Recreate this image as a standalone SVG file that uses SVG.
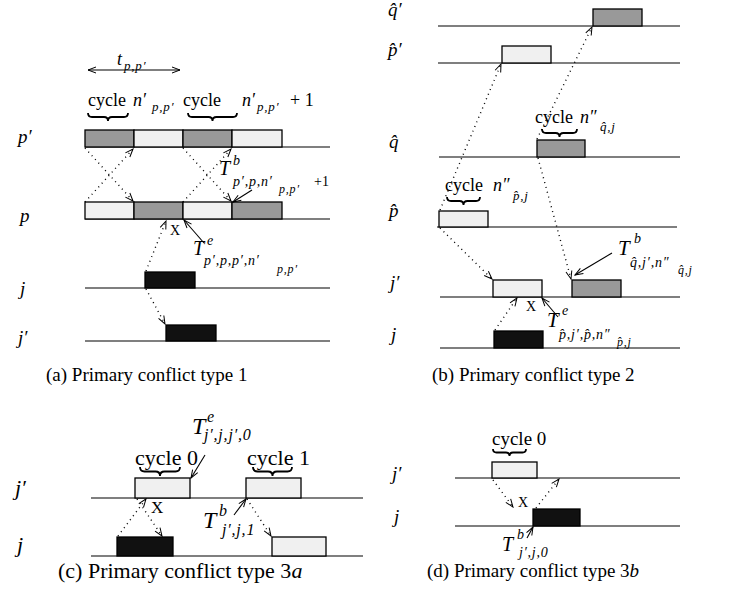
<svg xmlns="http://www.w3.org/2000/svg" width="735" height="600" viewBox="0 0 735 600">
<style>
.m{font-family:"Liberation Serif","DejaVu Serif",serif;font-style:italic;fill:#000}
.r{font-family:"Liberation Serif","DejaVu Serif",serif;fill:#000}
.s{letter-spacing:0.8px}
.ln{stroke:#000;stroke-width:1.2;fill:none}
.dk{fill:#999;stroke:#000;stroke-width:1.3}
.lt{fill:#f0f0f0;stroke:#000;stroke-width:1.3}
.bk{fill:#111;stroke:#000;stroke-width:1.3}
.dot{stroke:#000;stroke-width:1.4;stroke-dasharray:1 4;fill:none;marker-end:url(#ah)}
.ptr{stroke:#000;stroke-width:1.1;fill:none;marker-end:url(#ah)}
.br{fill:none;stroke:#000;stroke-width:1.8}
</style>
<defs>
<marker id="ah" markerWidth="10" markerHeight="8" refX="9" refY="4" orient="auto-start-reverse" markerUnits="userSpaceOnUse">
<path d="M1,1 L9,4 L1,7" fill="none" stroke="#000" stroke-width="1"/>
</marker>
</defs>
<rect width="735" height="600" fill="#fff"/>

<!-- Panel (a) -->
<g id="panel-a">
<g id="a-labels">
<text class="m" x="18" y="143" font-size="19">p′</text>
<text class="m" x="20" y="222" font-size="19">p</text>
<text class="m" x="20" y="295" font-size="19">j</text>
<text class="m" x="18" y="344" font-size="19">j′</text>
</g>
<g id="a-lines">
<line class="ln" x1="85" y1="147" x2="330" y2="147"/>
<line class="ln" x1="85" y1="219" x2="330" y2="219"/>
<line class="ln" x1="85" y1="288" x2="330" y2="288"/>
<line class="ln" x1="85" y1="341" x2="330" y2="341"/>
</g>
<g id="a-pprime">
<rect class="dk" x="85" y="130" width="49" height="17"/>
<rect class="lt" x="134" y="130" width="49" height="17"/>
<rect class="dk" x="183" y="130" width="49" height="17"/>
<rect class="lt" x="232" y="130" width="50" height="17"/>
</g>
<g id="a-p">
<rect class="lt" x="85" y="202" width="49" height="17"/>
<rect class="dk" x="134" y="202" width="49" height="17"/>
<rect class="lt" x="183" y="202" width="49" height="17"/>
<rect class="dk" x="232" y="202" width="50" height="17"/>
</g>
<g id="a-j"><rect class="bk" x="145" y="272" width="50" height="16"/></g>
<g id="a-jprime"><rect class="bk" x="166" y="325" width="50" height="16"/></g>
<g id="a-t">
<line class="ln" x1="88" y1="70" x2="180" y2="70" style="marker-start:url(#ah);marker-end:url(#ah)"/>
<text class="m" x="117" y="65" font-size="18">t</text>
<text class="m s" x="124" y="70" font-size="13">p,p′</text>
</g>
<g id="a-cycles">
<text class="r" x="88" y="106" font-size="18">cycle</text>
<text class="m" x="133" y="106" font-size="18">n′</text>
<text class="m s" x="152" y="111" font-size="13">p,p′</text>
<text class="r" x="183" y="106" font-size="18">cycle</text>
<text class="m" x="242" y="106" font-size="18">n′</text>
<text class="m s" x="257" y="111" font-size="13">p,p′</text>
<text class="r" x="290" y="106" font-size="18">+ 1</text>
<path class="br" d="M88,113 q0,4 4,4 H104 q4,0 4,4 q0,-4 4,-4 H124 q4,0 4,-4"/>
<path class="br" d="M188,113 q0,4 4,4 H208.5 q4,0 4,4 q0,-4 4,-4 H233 q4,0 4,-4"/>
</g>
<g id="a-Tb">
<text class="m" x="219" y="175" font-size="20">T</text>
<text class="m" x="233" y="165" font-size="14">b</text>
<text class="m s" x="233" y="186" font-size="14">p′,p,n′</text>
<text class="m s" x="279" y="193" font-size="12">p,p′</text>
<text class="r" x="314" y="186" font-size="14">+1</text>
</g>
<g id="a-Te">
<text class="m" x="193" y="255" font-size="20">T</text>
<text class="m" x="207" y="245" font-size="14">e</text>
<text class="m s" x="204" y="265" font-size="14">p′,p,p′,n′</text>
<text class="m s" x="277" y="273" font-size="12">p,p′</text>
</g>
<text class="r" x="170" y="235" font-size="14">X</text>
<text class="r" x="46" y="381" font-size="19">(a) Primary conflict type 1</text>
</g>

<!-- Panel (b) -->
<g id="panel-b">
<g id="b-labels">
<text class="m" x="388" y="16" font-size="19">q̂′</text>
<text class="m" x="388" y="56" font-size="19">p̂′</text>
<text class="m" x="389" y="148" font-size="19">q̂</text>
<text class="m" x="389" y="217" font-size="19">p̂</text>
<text class="m" x="390" y="289" font-size="19">j′</text>
<text class="m" x="391" y="341" font-size="19">j</text>
</g>
<g id="b-lines">
<line class="ln" x1="438" y1="26" x2="680" y2="26"/>
<line class="ln" x1="438" y1="63" x2="680" y2="63"/>
<line class="ln" x1="439" y1="157" x2="680" y2="157"/>
<line class="ln" x1="437" y1="227" x2="677" y2="227"/>
<line class="ln" x1="440" y1="297" x2="680" y2="297"/>
<line class="ln" x1="440" y1="348" x2="680" y2="348"/>
</g>
<g id="b-qprime"><rect class="dk" x="593" y="9" width="49" height="17"/></g>
<g id="b-pprime"><rect class="lt" x="502" y="46" width="49" height="17"/></g>
<g id="b-q"><rect class="dk" x="537" y="140" width="48" height="17"/></g>
<g id="b-p"><rect class="lt" x="439" y="211" width="49" height="16"/></g>
<g id="b-jprime">
<rect class="lt" x="493" y="280" width="49" height="17"/>
<rect class="dk" x="572" y="280" width="49" height="17"/>
</g>
<g id="b-j"><rect class="bk" x="494" y="331" width="49" height="17"/></g>
<g id="b-cycq">
<text class="r" x="535" y="123" font-size="18">cycle</text>
<text class="m" x="580" y="123" font-size="18">n″</text>
<text class="m s" x="600" y="131" font-size="13">q̂,j</text>
<path class="br" d="M542,129 q0,4 4,4 H555.5 q4,0 4,4 q0,-4 4,-4 H573 q4,0 4,-4"/>
</g>
<g id="b-cycp">
<text class="r" x="445" y="191" font-size="18">cycle</text>
<text class="m" x="493" y="191" font-size="18">n″</text>
<text class="m s" x="513" y="200" font-size="13">p̂,j</text>
<path class="br" d="M447,197 q0,4 4,4 H459.5 q4,0 4,4 q0,-4 4,-4 H476 q4,0 4,-4"/>
</g>
<g id="b-Tb">
<text class="m" x="618" y="255" font-size="21">T</text>
<text class="m" x="634" y="243" font-size="14">b</text>
<text class="m s" x="630" y="267" font-size="14">q̂,j′,n″</text>
<text class="m s" x="678" y="274" font-size="12">q̂,j</text>
</g>
<g id="b-Te">
<text class="m" x="547" y="327" font-size="21">T</text>
<text class="m" x="562" y="315" font-size="14">e</text>
<text class="m s" x="559" y="339" font-size="14">p̂,j′,p̂,n″</text>
<text class="m s" x="617" y="346" font-size="12">p̂,j</text>
</g>
<text class="r" x="526" y="311" font-size="14">X</text>
<text class="r" x="432" y="381" font-size="19">(b) Primary conflict type 2</text>
</g>

<!-- Panel (c) -->
<g id="panel-c">
<g id="c-labels">
<text class="m" x="15" y="495" font-size="22">j′</text>
<text class="m" x="17" y="552" font-size="22">j</text>
</g>
<g id="c-lines">
<line class="ln" x1="91" y1="498" x2="363" y2="498"/>
<line class="ln" x1="91" y1="556" x2="363" y2="556"/>
</g>
<g id="c-jprime">
<rect class="lt" x="135" y="478" width="55" height="20"/>
<rect class="lt" x="246" y="478" width="55" height="20"/>
</g>
<g id="c-j">
<rect class="bk" x="117" y="537" width="56" height="19"/>
<rect class="lt" x="272" y="537" width="54" height="19"/>
</g>
<g id="c-cycles">
<text class="r" x="135" y="465" font-size="22">cycle 0</text>
<text class="r" x="247" y="465" font-size="22">cycle 1</text>
<path class="br" d="M140,467 q0,4.5 4.5,4.5 H155.5 q4.5,0 4.5,4.5 q0,-4.5 4.5,-4.5 H175.5 q4.5,0 4.5,-4.5"/>
<path class="br" d="M253,467 q0,4.5 4.5,4.5 H268 q4.5,0 4.5,4.5 q0,-4.5 4.5,-4.5 H287.5 q4.5,0 4.5,-4.5"/>
</g>
<g id="c-Te">
<text class="m" x="192" y="434" font-size="24">T</text>
<text class="m" x="207" y="422" font-size="16">e</text>
<text class="m s" x="204" y="440" font-size="16">j′,j,j′,0</text>
</g>
<g id="c-Tb">
<text class="m" x="203" y="528" font-size="24">T</text>
<text class="m" x="219" y="516" font-size="16">b</text>
<text class="m s" x="222" y="535" font-size="16">j′,j,1</text>
</g>
<text class="r" x="151" y="513" font-size="17">X</text>
<text class="r" x="58" y="578" font-size="22">(c) Primary conflict type 3<tspan class="m">a</tspan></text>
</g>

<!-- Panel (d) -->
<g id="panel-d">
<g id="d-labels">
<text class="m" x="392" y="480" font-size="19">j′</text>
<text class="m" x="394" y="523" font-size="19">j</text>
</g>
<g id="d-lines">
<line class="ln" x1="455" y1="478" x2="680" y2="478"/>
<line class="ln" x1="455" y1="526" x2="680" y2="526"/>
</g>
<g id="d-jprime"><rect class="lt" x="492" y="462" width="45" height="16"/></g>
<g id="d-j"><rect class="bk" x="533" y="509" width="47" height="17"/></g>
<g id="d-cycle">
<text class="r" x="492" y="445" font-size="19">cycle 0</text>
<path class="br" d="M493,449 q0,3.5 3.5,3.5 H506 q3.5,0 3.5,3.5 q0,-3.5 3.5,-3.5 H522.5 q3.5,0 3.5,-3.5"/>
</g>
<g id="d-Tb">
<text class="m" x="502" y="551" font-size="20">T</text>
<text class="m" x="517" y="539" font-size="14">b</text>
<text class="m s" x="519" y="557" font-size="14">j′,j,0</text>
</g>
<text class="r" x="518" y="507" font-size="14">X</text>
<text class="r" x="427" y="577" font-size="19">(d) Primary conflict type 3<tspan class="m">b</tspan></text>
</g>

<g id="connectors">
<line class="dot" x1="85" y1="148" x2="133" y2="201"/>
<line class="dot" x1="85" y1="202" x2="133" y2="149"/>
<line class="dot" x1="183" y1="148" x2="231" y2="201"/>
<line class="dot" x1="183" y1="202" x2="231" y2="149"/>
<line class="dot" x1="146" y1="271" x2="166" y2="221"/>
<line class="dot" x1="146" y1="289" x2="165" y2="324"/>
<line class="ptr" x1="252" y1="190" x2="233" y2="202"/>
<line class="ptr" x1="204" y1="243" x2="184" y2="220"/>

<line class="dot" x1="440" y1="210" x2="501" y2="64"/>
<line class="dot" x1="537" y1="139" x2="592" y2="27"/>
<line class="dot" x1="440" y1="228" x2="492" y2="279"/>
<line class="dot" x1="538" y1="158" x2="571" y2="279"/>
<line class="dot" x1="495" y1="330" x2="517" y2="298"/>
<line class="ptr" x1="612" y1="253" x2="575" y2="275"/>
<line class="ptr" x1="558" y1="317" x2="542" y2="298"/>

<line class="dot" x1="137" y1="499" x2="162" y2="536"/>
<line class="dot" x1="118" y1="536" x2="146" y2="499"/>
<line class="dot" x1="247" y1="499" x2="271" y2="536"/>
<line class="ptr" x1="205" y1="455" x2="191" y2="478"/>
<line class="ptr" x1="234" y1="515" x2="246" y2="499"/>

<line class="dot" x1="493" y1="480" x2="513" y2="507"/>
<line class="dot" x1="536" y1="508" x2="559" y2="479"/>
<line class="ptr" x1="527" y1="538" x2="533" y2="527"/>
</g>
</svg>
